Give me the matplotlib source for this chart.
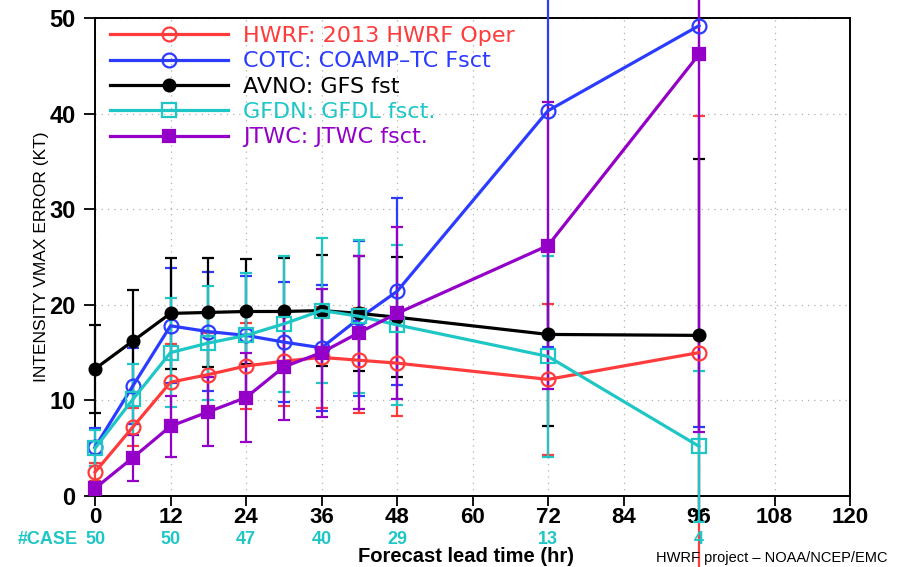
import matplotlib
matplotlib.use("Agg")
import matplotlib.pyplot as plt
from matplotlib.transforms import blended_transform_factory

# ---------------- data ----------------
lead = [0, 6, 12, 18, 24, 30, 36, 42, 48, 72, 96]

hwrf_mean = [2.5, 7.2, 11.9, 12.7, 13.6, 14.1, 14.5, 14.2, 13.9, 12.2, 15.0]
hwrf_err = [0.9, 2.0, 4.0, 4.3, 4.5, 4.7, 5.3, 5.5, 5.5, 7.9, 24.7]

cotc_mean = [5.1, 11.5, 17.8, 17.2, 16.8, 16.1, 15.5, 18.6, 21.4, 40.3, 49.2]
cotc_err = [2.0, 4.0, 6.0, 6.2, 6.2, 6.3, 6.6, 8.1, 9.8, 24.7, 42.0]

avno_mean = [13.3, 16.2, 19.1, 19.2, 19.3, 19.3, 19.4, 19.1, 18.7, 16.9, 16.8]
avno_err = [4.6, 5.3, 5.8, 5.7, 5.5, 5.6, 5.8, 6.0, 6.3, 9.6, 18.4]

gfdn_mean = [5.0, 10.1, 15.0, 16.0, 16.8, 18.0, 19.4, 18.8, 17.9, 14.6, 5.2]
gfdn_err = [1.9, 3.7, 5.7, 6.0, 6.5, 7.1, 7.6, 8.0, 8.4, 10.5, 7.9]

jtwc_mean = [0.8, 4.0, 7.3, 8.8, 10.3, 13.5, 15.0, 17.1, 19.1, 26.2, 46.2]
jtwc_err = [0.7, 2.4, 3.2, 3.6, 4.7, 5.6, 6.7, 8.0, 9.0, 15.0, 39.5]

labels = ["HWRF: 2013 HWRF Oper", "COTC: COAMP\u2013TC Fsct", "AVNO: GFS fst",
          "GFDN: GFDL fsct.", "JTWC: JTWC fsct."]

case_leads = [0, 12, 24, 36, 48, 72, 96]
case_counts = [50, 50, 47, 40, 29, 13, 4]

xticks = [0, 12, 24, 36, 48, 60, 72, 84, 96, 108, 120]
yticks = [0, 10, 20, 30, 40, 50]

# ---------------- styles ----------------
RED = "#ff3b3b"
BLUE = "#2b3cff"
BLACK = "#000000"
CYAN = "#1fc6c6"
PURPLE = "#9400c8"

series = [
    (hwrf_mean, hwrf_err, RED, dict(marker="o", mfc="none", ms=10)),
    (cotc_mean, cotc_err, BLUE, dict(marker="o", mfc="none", ms=10)),
    (avno_mean, avno_err, BLACK, dict(marker="o", mfc=BLACK, ms=8.5)),
    (gfdn_mean, gfdn_err, CYAN, dict(marker="s", mfc="none", ms=9.5)),
    (jtwc_mean, jtwc_err, PURPLE, dict(marker="s", mfc=PURPLE, ms=9)),
]

SANS = ["Liberation Sans", "DejaVu Sans"]

fig = plt.figure(figsize=(8.98, 5.67), dpi=100)
fig.patch.set_facecolor("white")
ax = fig.add_axes([95 / 898, 1 - 496 / 567, 755 / 898, 478 / 567])

handles = []
for (mean, err, col, mk), lab in zip(series, labels):
    eb = ax.errorbar(lead, mean, yerr=err, fmt="none", ecolor=col,
                     elinewidth=1.6, capsize=4.5, capthick=1.6, zorder=3)
    for art in list(eb[1]) + list(eb[2]):
        art.set_clip_on(False)
    ln, = ax.plot(lead, mean, color=col, lw=2.3, mec=col, mew=1.6,
                  label=lab, zorder=4, clip_on=False, **mk)
    handles.append(ln)

ax.set_xlim(0, 120)
ax.set_ylim(0, 50)
ax.set_xticks(xticks)
ax.set_yticks(yticks)
ax.set_xticklabels([str(v) for v in xticks], family=SANS, fontweight="bold", fontsize=16)
ax.set_yticklabels([str(v) for v in yticks], family=SANS, fontweight="bold", fontsize=17)
ax.tick_params(axis="y", direction="out", length=8, width=1.3, pad=6)
ax.tick_params(axis="x", direction="out", length=7, width=1.3, pad=1)
ax.grid(True, linestyle=(0, (1, 4)), color="#b0b0b0", linewidth=0.9)
ax.set_axisbelow(True)
for sp in ax.spines.values():
    sp.set_linewidth(1.4)

ax.set_ylabel("INTENSITY VMAX ERROR (KT)", family=SANS, fontsize=12.5)
ax.yaxis.set_label_coords(-46 / 755, 0.5)

leg = ax.legend(handles=handles, loc="upper left",
                bbox_to_anchor=(15 / 755, 1 - 8 / 478), borderaxespad=0,
                borderpad=0, frameon=False, handlelength=5.3, handletextpad=0.7,
                labelspacing=0.24, labelcolor="linecolor",
                prop={"family": ["DejaVu Sans"], "size": 16})

# case counts row
trans = blended_transform_factory(ax.transData, fig.transFigure)
for x, c in zip(case_leads, case_counts):
    ax.text(x, 1 - 539 / 567, str(c), transform=trans, ha="center", va="center",
            color=CYAN, family=SANS, fontweight="bold", fontsize=13, clip_on=False)
fig.text(18 / 898, 1 - 539 / 567, "#CASE", ha="left", va="center", color=CYAN,
         family=SANS, fontweight="bold", fontsize=13)

fig.text(466 / 898, 1 - 556 / 567, "Forecast lead time (hr)", ha="center", va="center",
         family=SANS, fontweight="bold", fontsize=14.5)
fig.text(656 / 898, 1 - 558 / 567, "HWRF project \u2013 NOAA/NCEP/EMC", ha="left", va="center",
         family=SANS, fontsize=10.5)

fig.savefig("out.png", dpi=100, facecolor="white")
